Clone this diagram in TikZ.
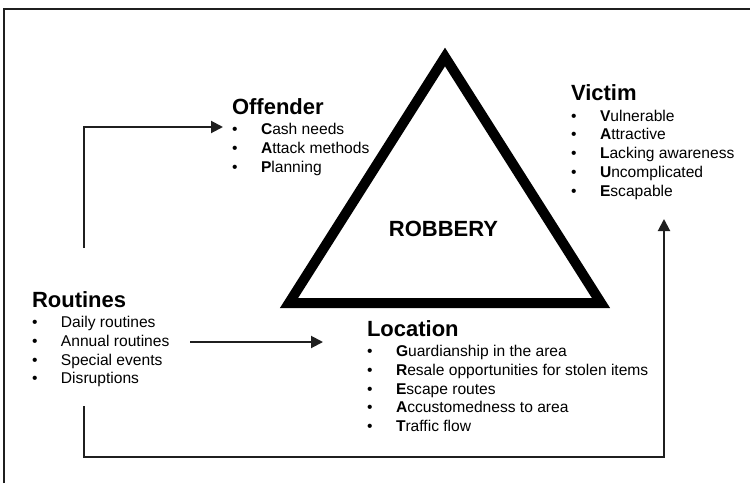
\documentclass[tikz,border=0pt]{standalone}
\usepackage{fontspec}
\setmainfont{Liberation Sans}
\usetikzlibrary{arrows.meta}
\newcommand\hd[1]{{\fontsize{22}{24}\selectfont\bfseries #1}}
\newcommand\itm[1]{\makebox[29pt][l]{\textbullet}#1}
\newcommand\fl[1]{\textbf{#1}}
\begin{document}
\begin{tikzpicture}[x=1pt,y=-1pt,
  blk/.style={anchor=base west,inner sep=0pt,outer sep=0pt,
    font=\fontsize{15.6}{18.8}\selectfont},
  conn/.style={draw=black!88,line width=2pt,-{Triangle[length=12pt,width=12pt]}},
  frameline/.style={draw=black!88,line width=1.5pt}]
\useasboundingbox (0,0) rectangle (750,483);
\draw[frameline] (4,483) -- (4,9) -- (750,9);
% triangle
\draw[line width=10pt,line join=miter,miter limit=10] (445,57) -- (289,303) -- (601,303) -- cycle;
\node[inner sep=0pt,font=\fontsize{22}{24}\selectfont\bfseries] (robbery) at (443.5,229) {ROBBERY};
% blocks
\node[blk] (offender) at (232,114) {\begin{tabular}[t]{@{}l@{}}\hd{Offender}\\[1.7pt]
\itm{\fl{C}ash needs}\\
\itm{\fl{A}ttack methods}\\
\itm{\fl{P}lanning}\end{tabular}};
\node[blk] (victim) at (571,100.5) {\begin{tabular}[t]{@{}l@{}}\hd{Victim}\\[1.7pt]
\itm{\fl{V}ulnerable}\\
\itm{\fl{A}ttractive}\\
\itm{\fl{L}acking awareness}\\
\itm{\fl{U}ncomplicated}\\
\itm{\fl{E}scapable}\end{tabular}};
\node[blk] (location) at (367,336) {\begin{tabular}[t]{@{}l@{}}\hd{Location}\\[1.7pt]
\itm{\fl{G}uardianship in the area}\\
\itm{\fl{R}esale opportunities for stolen items}\\
\itm{\fl{E}scape routes}\\
\itm{\fl{A}ccustomedness to area}\\
\itm{\fl{T}raffic flow}\end{tabular}};
\node[blk] (routines) at (32,307) {\begin{tabular}[t]{@{}l@{}}\hd{Routines}\\[1.7pt]
\itm{Daily routines}\\
\itm{Annual routines}\\
\itm{Special events}\\
\itm{Disruptions}\end{tabular}};
% connector ends
\coordinate (r1) at (84,248);
\coordinate (o1) at (223,127);
\coordinate (r2) at (190,342);
\coordinate (l1) at (323,342);
\coordinate (r3) at (84,406);
\coordinate (v1) at (664,219);
\draw[conn] (r1) |- (o1);
\draw[conn] (r2) -- (l1);
\draw[conn] (r3) -- (84,457) -| (v1);
\end{tikzpicture}
\end{document}
